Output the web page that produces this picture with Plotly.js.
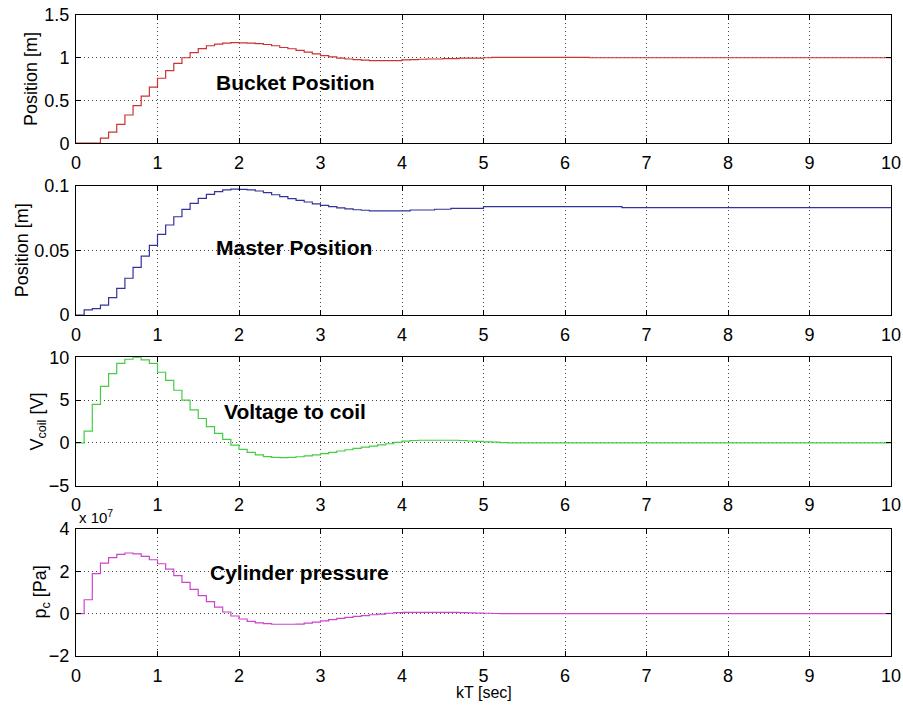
<!DOCTYPE html>
<html>
<head>
<meta charset="utf-8">
<script src="https://cdn.plot.ly/plotly-3.0.1.min.js"></script>
<style>html,body{margin:0;padding:0;background:#fff;}#chart{width:903px;height:708px;}</style>
</head>
<body>
<div id="chart"></div>
<script>
// Sample instants kT [sec] and held values (zero-order hold)
const bucketT = [0,0.1,0.2,0.3,0.4,0.5,0.6,0.7,0.8,0.9,1.0,1.1,1.2,1.3,1.4,1.5,1.6,1.7,1.8,1.9,2.0,2.1,2.2,2.3,2.4,2.5,2.6,2.7,2.8,2.9,3.0,3.1,3.2,3.3,3.4,3.5,3.6,3.7,3.8,3.9,4.0,4.1,4.2,4.3,4.5,4.7,5.0,5.1,6.3,10];
const bucketPos = [0,0,0,0.06,0.13,0.22,0.33,0.44,0.55,0.655,0.76,0.85,0.935,1.0,1.06,1.107,1.14,1.16,1.172,1.177,1.175,1.172,1.165,1.155,1.14,1.12,1.105,1.085,1.065,1.045,1.025,1.01,0.995,0.985,0.978,0.972,0.967,0.965,0.965,0.967,0.975,0.978,0.982,0.985,0.99,0.995,1.0,1.004,1.0,1.0];

const masterT = [0,0.1,0.2,0.3,0.4,0.5,0.6,0.7,0.8,0.9,1.0,1.1,1.2,1.3,1.4,1.5,1.6,1.7,1.8,1.9,2.0,2.1,2.2,2.3,2.4,2.5,2.6,2.7,2.8,2.9,3.0,3.1,3.2,3.3,3.4,3.5,3.6,4.1,4.4,4.6,5.0,6.7,10];
const masterPos = [0,0.0039,0.0049,0.0077,0.0134,0.0206,0.0284,0.0369,0.0456,0.0539,0.0624,0.0696,0.076,0.0817,0.0864,0.0902,0.0933,0.0954,0.0967,0.0974,0.0972,0.0968,0.0959,0.0946,0.093,0.0915,0.09,0.0887,0.0874,0.086,0.0848,0.0838,0.0828,0.082,0.0814,0.081,0.0806,0.0812,0.0818,0.0824,0.0838,0.0830,0.0830];

const voltT = [0,0.1,0.2,0.3,0.4,0.5,0.6,0.7,0.8,0.9,1.0,1.1,1.2,1.3,1.4,1.5,1.6,1.7,1.8,1.9,2.0,2.1,2.2,2.3,2.4,2.5,2.6,2.7,2.8,2.9,3.0,3.1,3.2,3.3,3.4,3.5,3.6,3.7,3.8,3.9,4.0,4.1,4.2,4.7,4.8,4.9,5.0,5.1,5.2,5.3,10];
const voltCoil = [0,1.37,4.5,6.6,8.1,9.3,9.77,10.0,9.7,9.3,8.25,7.3,6.15,5.0,3.85,2.85,1.9,1.1,0.4,-0.27,-0.75,-1.1,-1.4,-1.6,-1.7,-1.72,-1.7,-1.62,-1.52,-1.4,-1.25,-1.1,-0.95,-0.8,-0.65,-0.5,-0.37,-0.23,-0.1,0.05,0.2,0.28,0.31,0.28,0.22,0.17,0.12,0.08,0.04,0,0];

const pressT = [0,0.1,0.2,0.3,0.4,0.5,0.6,0.7,0.8,0.9,1.0,1.1,1.2,1.3,1.4,1.5,1.6,1.7,1.8,1.9,2.0,2.1,2.2,2.3,2.4,2.5,2.6,2.7,2.8,2.9,3.0,3.1,3.2,3.3,3.4,3.5,3.6,3.7,3.8,3.9,4.0,4.6,4.7,4.8,4.9,5.0,5.1,5.2,10];
const pressCyl = [0,0.66,1.89,2.39,2.65,2.80,2.87,2.83,2.71,2.55,2.36,2.11,1.80,1.48,1.15,0.85,0.57,0.31,0.08,-0.11,-0.25,-0.36,-0.43,-0.47,-0.5,-0.5,-0.5,-0.49,-0.45,-0.40,-0.34,-0.28,-0.22,-0.17,-0.13,-0.09,-0.05,-0.02,0.02,0.05,0.06,0.06,0.05,0.04,0.03,0.02,0.01,0,0]; // x 10^7 Pa

const xTicks = [0,1,2,3,4,5,6,7,8,9,10];
const labels = ['Bucket Position','Master Position','Voltage to coil','Cylinder pressure'];

const FONT = 'Liberation Sans, Arial, sans-serif';
const domains = [[0.800,1.0],[0.532,0.7337],[0.2657,0.466],[0,0.198]];

function lineTrace(x, y, color, ax) {
  return {x: x, y: y, type: 'scatter', mode: 'lines', line: {shape: 'hv', color: color, width: 1.2},
          xaxis: 'x' + (ax === 1 ? '' : ax), yaxis: 'y' + (ax === 1 ? '' : ax), hoverinfo: 'skip', showlegend: false};
}

const data = [
  lineTrace(bucketT, bucketPos, '#cc3333', 1),
  lineTrace(masterT, masterPos, '#333399', 2),
  lineTrace(voltT, voltCoil, '#44cc44', 3),
  lineTrace(pressT, pressCyl, '#cc44cc', 4)
];

function axisStyle(extra) {
  return Object.assign({
    showline: true, linecolor: 'black', linewidth: 1, mirror: 'ticks',
    ticks: 'inside', ticklen: 5, tickcolor: 'black', tickwidth: 1,
    showgrid: true, gridcolor: '#444', gridwidth: 1, griddash: '1px,3px',
    zeroline: false, tickfont: {family: FONT, size: 18, color: 'black'}, fixedrange: true
  }, extra);
}

const layout = {
  width: 903, height: 708,
  margin: {l: 76, r: 12, t: 15, b: 52},
  paper_bgcolor: 'white', plot_bgcolor: 'white',
  font: {family: FONT, color: 'black'},
  showlegend: false,
  annotations: []
};

const yRanges = [[0,1.5],[0,0.1],[-5,10],[-2,4]];
const yDticks = [0.5,0.05,5,2];
for (let i = 0; i < 4; i++) {
  const s = i === 0 ? '' : String(i + 1);
  layout['xaxis' + s] = axisStyle({range: [0,10], tickvals: xTicks, ticktext: xTicks.map(String), anchor: 'y' + s, ticklabelstandoff: 3});
  layout['yaxis' + s] = axisStyle({range: yRanges[i], dtick: yDticks[i], tick0: 0, domain: domains[i], anchor: 'x' + s, ticklabelstandoff: 2});
}

// in-plot labels
const labelPos = [[2.69,0.71],[2.67,0.0524],[2.69,3.62],[2.74,1.97]];
for (let i = 0; i < 4; i++) {
  const s = i === 0 ? '' : String(i + 1);
  layout.annotations.push({text: '<b>' + labels[i] + '</b>', x: labelPos[i][0], y: labelPos[i][1],
    xref: 'x' + s, yref: 'y' + s, showarrow: false, xanchor: 'center', yanchor: 'middle',
    font: {family: FONT, size: 21, color: 'black'}});
}

// y axis titles
const yTitles = ['Position [m]','Position [m]','V<sub>coil</sub> [V]','p<sub>c</sub> [Pa]'];
const yTitleX = [31,22,38,42];
for (let i = 0; i < 4; i++) {
  layout.annotations.push({text: yTitles[i], textangle: -90, xref: 'paper', yref: 'paper',
    x: (yTitleX[i] - 76) / 815, y: (domains[i][0] + domains[i][1]) / 2,
    xanchor: 'center', yanchor: 'middle', showarrow: false,
    font: {family: FONT, size: 18, color: 'black'}});
}
// exponent label
layout.annotations.push({text: 'x 10<sup>7</sup>', xref: 'paper', yref: 'paper', x: 0.001, y: (656 - 516) / 641,
  xanchor: 'left', yanchor: 'middle', showarrow: false, font: {family: FONT, size: 15, color: 'black'}});
// x title
layout.annotations.push({text: 'kT [sec]', xref: 'paper', yref: 'paper', x: 0.5, y: (656 - 692) / 641,
  xanchor: 'center', yanchor: 'middle', showarrow: false, font: {family: FONT, size: 16, color: 'black'}});

Plotly.newPlot('chart', data, layout, {staticPlot: true, displayModeBar: false});
</script>
</body>
</html>
